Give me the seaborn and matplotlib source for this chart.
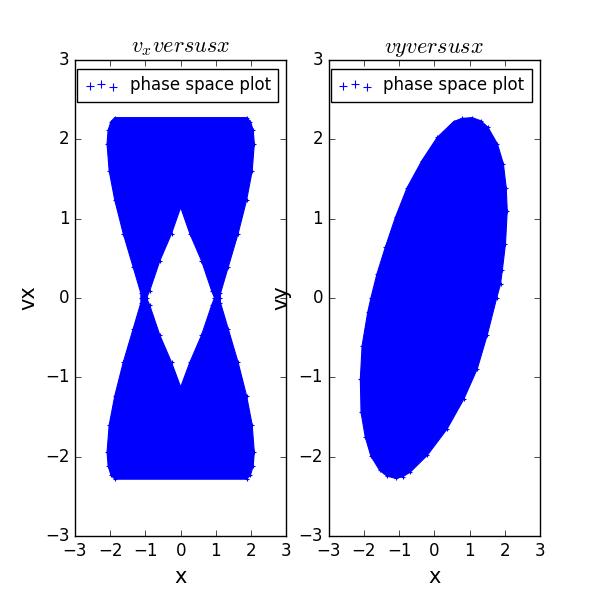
import matplotlib
matplotlib.use("Agg")
import matplotlib.pyplot as plt
import seaborn as sns
import pandas as pd

# left panel: outer edge of the bow-tie cloud (x, vx), traced clockwise from the top-left corner
outer_x = [-1.87, 1.87, 1.98, 2.06, 2.09, 2.03, 1.87, 1.63, 1.35, 1.13, 1.12, 1.13, 1.35, 1.63, 1.87, 2.03, 2.09,
           2.06, 1.98, 1.87, -1.87, -1.98, -2.06, -2.09, -2.03, -1.87, -1.63, -1.35, -1.13, -1.13, -1.13, -1.35,
           -1.63, -1.87, -2.03, -2.09, -2.06, -1.98]
outer_vx = [2.27, 2.27, 2.22, 2.11, 1.94, 1.60, 1.23, 0.81, 0.39, 0.06, 0.0, -0.06, -0.39, -0.81, -1.23, -1.60, -1.94,
            -2.11, -2.23, -2.28, -2.28, -2.23, -2.11, -1.94, -1.60, -1.23, -0.81, -0.39, -0.06, 0.0, 0.06, 0.39,
            0.81, 1.23, 1.60, 1.94, 2.11, 2.22]

# left panel: empty diamond in the middle
hole_x = [0.0, 0.26, 0.59, 0.88, 0.96, 0.88, 0.59, 0.26, 0.0, -0.26, -0.59, -0.88, -0.97, -0.88, -0.59, -0.26]
hole_vx = [1.14, 0.81, 0.47, 0.09, 0.0, -0.09, -0.47, -0.81, -1.12, -0.81, -0.47, -0.09, 0.0, 0.09, 0.47, 0.81]

# right panel: tilted ellipse (x, vy), clockwise from the top
ell_x = [1.075, 1.32, 1.52, 1.79, 1.96, 2.04, 2.07, 2.02, 1.93, 1.88, 1.77, 1.50, 1.22, 0.84, 0.36, -0.20, -0.68,
         -0.90, -1.10, -1.35, -1.55, -1.80, -1.96, -2.08, -2.10, -2.05, -1.89, -1.80, -1.63, -1.39, -1.10, -0.77,
         -0.35, 0.08, 0.55, 0.78]
ell_vy = [2.27, 2.23, 2.15, 1.94, 1.69, 1.39, 1.10, 0.68, 0.35, 0.18, 0.0, -0.47, -0.89, -1.27, -1.65, -1.98, -2.19,
          -2.25, -2.27, -2.24, -2.17, -1.99, -1.75, -1.44, -1.02, -0.60, -0.18, 0.0, 0.30, 0.64, 1.02, 1.39,
          1.73, 2.02, 2.22, 2.26]

ticks = [-3, -2, -1, 0, 1, 2, 3]

plt.style.use("classic")
plt.rcParams["mathtext.fontset"] = "cm"

fig, axes = plt.subplots(1, 2, figsize=(6, 5.96), dpi=100, facecolor="white")
fig.subplots_adjust(left=0.125, right=0.9, bottom=0.1, top=0.9, wspace=0.2)

# left: v_x versus x
ax = axes[0]
ax.fill(outer_x, outer_vx, color="blue", lw=0.8, zorder=1)
ax.fill(hole_x, hole_vx, facecolor="white", edgecolor="blue", lw=0.8, zorder=2)
edge = pd.DataFrame({"x": outer_x + hole_x, "v": outer_vx + hole_vx})
sns.scatterplot(data=edge, x="x", y="v", marker="+", color="blue", s=8, linewidth=0.8,
                label="phase space plot", ax=ax, zorder=3, legend=False)
ax.set_title(r"$v_x versus x$", fontsize=16)
ax.set_ylabel("vx", fontsize=15)

# right: v_y versus x
ax = axes[1]
ax.fill(ell_x, ell_vy, color="blue", lw=0.8, zorder=1)
sns.scatterplot(x=ell_x, y=ell_vy, marker="+", color="blue", s=8, linewidth=0.8,
                label="phase space plot", ax=ax, zorder=3, legend=False)
ax.set_title(r"$vy versus x$", fontsize=16)
ax.set_ylabel("vy", fontsize=15)

for ax in axes:
    ax.set_xlim(-3, 3)
    ax.set_ylim(-3, 3)
    ax.set_xticks(ticks)
    ax.set_yticks(ticks)
    ax.tick_params(labelsize=12)
    ax.set_xlabel("x", fontsize=15)
    leg = ax.legend(loc="upper left", bbox_to_anchor=(0.011, 0.981), borderaxespad=0,
                    scatterpoints=3, fontsize=12, fancybox=False, borderpad=0.45, handletextpad=0.7)
    for h in leg.legend_handles:
        h.set_sizes([30])

fig.savefig("out.png", dpi=100, facecolor="white")
